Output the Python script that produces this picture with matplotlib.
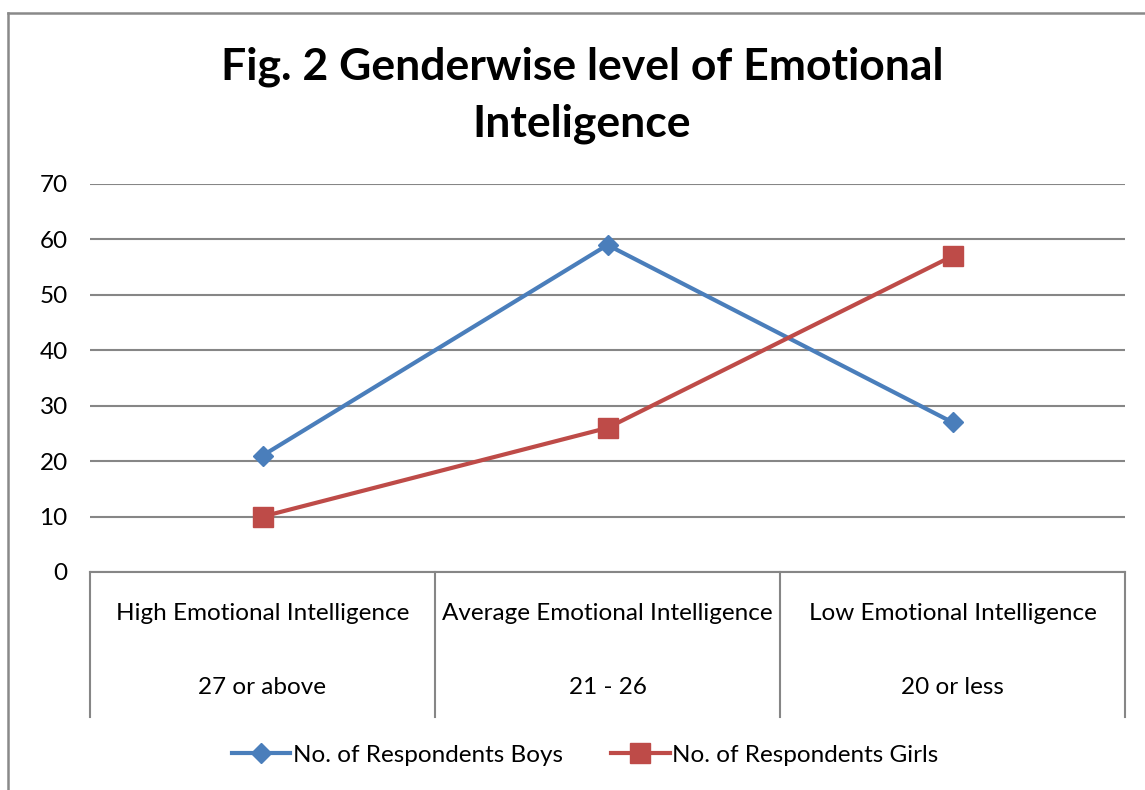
import matplotlib
matplotlib.use("Agg")
import matplotlib.pyplot as plt
from matplotlib.lines import Line2D

categories = ["High Emotional Intelligence", "Average Emotional Intelligence", "Low Emotional Intelligence"]
ranges = ["27 or above", "21 - 26", "20 or less"]
boys = [21, 59, 27]
girls = [10, 26, 57]
yticks = [0, 10, 20, 30, 40, 50, 60, 70]
title = "Fig. 2 Genderwise level of Emotional\nInteligence"

plt.rcParams['font.family'] = ['Lato', 'DejaVu Sans']

W, H = 1145, 790
fig = plt.figure(figsize=(W / 100, H / 100), dpi=100)
fig.patch.set_facecolor("white")

# outer chart border (left/top visible)
fig.add_artist(Line2D([8 / W, 8 / W], [0, 1 - 13 / H], transform=fig.transFigure, color="#898989", lw=1.8))
fig.add_artist(Line2D([8 / W, 1.0], [1 - 13 / H, 1 - 13 / H], transform=fig.transFigure, color="#898989", lw=1.8))

left, right, top, bottom = 90, 1125, 184, 572
ax = fig.add_axes([left / W, 1 - bottom / H, (right - left) / W, (bottom - top) / H])

x = list(range(len(categories)))
ax.plot(x, boys, color="#4A7EBB", lw=3, marker="D", markersize=10, label="No. of Respondents Boys", zorder=3)
ax.plot(x, girls, color="#BE4B48", lw=3, marker="s", markersize=14, label="No. of Respondents Girls", zorder=3)

ax.set_xlim(-0.5, len(categories) - 0.5)
ax.set_ylim(0, 70)
ax.set_yticks(yticks)
ax.set_yticklabels([str(v) for v in yticks], fontsize=17.5)
ax.tick_params(axis="y", length=0, pad=16)
ax.yaxis.grid(True, color="#868686", lw=1.5)
ax.set_axisbelow(True)
ax.set_xticks([])
for s in ["top", "right", "left"]:
    ax.spines[s].set_visible(False)
ax.spines["bottom"].set_color("#868686")
ax.spines["bottom"].set_linewidth(1.5)

tr = ax.get_xaxis_transform()
axh = bottom - top
ybot = (bottom - 717) / axh
for b in [i - 0.5 for i in range(len(categories) + 1)]:
    ax.add_line(Line2D([b, b], [0, ybot], transform=tr, color="#868686", lw=1.5, clip_on=False))
for i, (c, r) in enumerate(zip(categories, ranges)):
    ax.text(i, (bottom - 614) / axh, c, transform=tr, ha="center", va="center", fontsize=17.5)
    ax.text(i, (bottom - 687) / axh, r, transform=tr, ha="center", va="center", fontsize=17.5)

fig.text(582 / W, 1 - 95 / H, title, ha="center", va="center", fontsize=32, fontweight="bold", linespacing=1.5)

fig.legend(loc="center", bbox_to_anchor=(585 / W, 1 - 755 / H), ncol=2, frameon=False, fontsize=17.5,
           handlelength=2.4, handletextpad=0.1, columnspacing=2.0)

fig.savefig("out.png", dpi=100, facecolor="white")
